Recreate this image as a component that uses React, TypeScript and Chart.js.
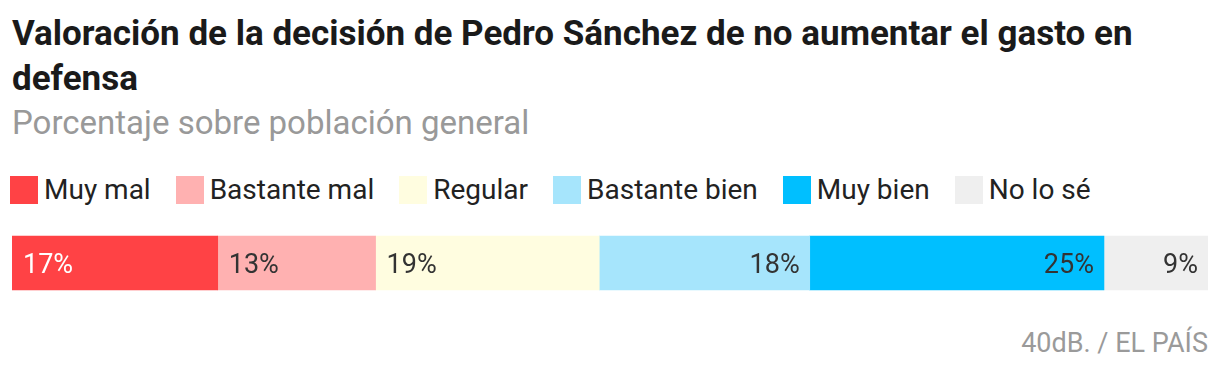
import React, { useEffect, useRef } from "react";
import { Chart, registerables } from "chart.js";

Chart.register(...registerables);

const title = "Valoración de la decisión de Pedro Sánchez de no aumentar el gasto en defensa";
const subtitle = "Porcentaje sobre población general";
const source = "40dB. / EL PAÍS";

const categories = ["Muy mal", "Bastante mal", "Regular", "Bastante bien", "Muy bien", "No lo sé"];
const values = [17.2, 13.2, 18.7, 17.6, 24.6, 8.7];
const valueLabels = ["17%", "13%", "19%", "18%", "25%", "9%"];

const colors = ["#ff4245", "#ffb1b1", "#fffde0", "#a6e5fc", "#00bfff", "#efefef"];
const labelColors = ["#ffffff", "#333333", "#333333", "#333333", "#333333", "#333333"];
const labelAligns: CanvasTextAlign[] = ["left", "left", "left", "right", "right", "right"];

const FONT = "Roboto, 'Noto Sans', sans-serif";

export default function App() {
  const canvasRef = useRef<HTMLCanvasElement | null>(null);

  useEffect(() => {
    if (!canvasRef.current) return;
    const labelPlugin = {
      id: "segmentLabels",
      afterDatasetsDraw(chart: any) {
        const ctx = chart.ctx;
        ctx.save();
        ctx.font = `400 27px ${FONT}`;
        ctx.textBaseline = "alphabetic";
        chart.data.datasets.forEach((ds: any, i: number) => {
          const meta = chart.getDatasetMeta(i);
          const el = meta.data[0];
          if (!el) return;
          const left = Math.min(el.x, el.base);
          const right = Math.max(el.x, el.base);
          ctx.fillStyle = labelColors[i];
          ctx.textAlign = labelAligns[i];
          const tx = labelAligns[i] === "left" ? left + 11 : right - 10;
          ctx.fillText(valueLabels[i], tx, el.y + 9.6);
        });
        ctx.restore();
      },
    };

    const chart = new Chart(canvasRef.current, {
      type: "bar",
      data: {
        labels: [""],
        datasets: categories.map((c, i) => ({
          label: c,
          data: [values[i]],
          backgroundColor: colors[i],
          borderWidth: 0,
          barThickness: 54,
        })),
      },
      options: {
        indexAxis: "y",
        animation: false,
        responsive: false,
        maintainAspectRatio: false,
        layout: { padding: { left: 4, right: 4, top: 0, bottom: 0 } },
        scales: {
          x: { stacked: true, min: 0, max: 100, display: false },
          y: { stacked: true, display: false },
        },
        plugins: {
          legend: { display: false },
          tooltip: { enabled: false },
          title: { display: false },
        },
      },
      plugins: [labelPlugin],
    });
    return () => chart.destroy();
  }, []);

  const titleWords = title.split(" ");
  const line1 = titleWords.slice(0, -1).join(" ");
  const line2 = titleWords[titleWords.length - 1];

  return (
    <div style={{ position: "relative", width: 1204, height: 358, fontFamily: FONT, overflow: "hidden" }}>
      <div
        style={{
          position: "absolute",
          top: 3,
          left: 4,
          fontSize: 35,
          lineHeight: "45px",
          fontWeight: 700,
          color: "#1a1a1a",
          whiteSpace: "nowrap",
        }}
      >
        {line1}
        <br />
        {line2}
      </div>
      <div
        style={{
          position: "absolute",
          top: 95,
          left: 4,
          fontSize: 33,
          lineHeight: "40px",
          color: "#999999",
          whiteSpace: "nowrap",
        }}
      >
        {subtitle}
      </div>
      <div
        style={{
          position: "absolute",
          top: 168,
          left: 2,
          display: "flex",
          alignItems: "center",
          height: 28,
          whiteSpace: "nowrap",
        }}
      >
        {categories.map((c, i) => (
          <div key={c} style={{ display: "flex", alignItems: "center", marginRight: 25 }}>
            <span style={{ display: "inline-block", width: 28, height: 28, background: colors[i] }} />
            <span style={{ marginLeft: 6, fontSize: 28, lineHeight: "28px", color: "#222222" }}>{c}</span>
          </div>
        ))}
      </div>
      <canvas
        ref={canvasRef}
        width={1204}
        height={80}
        style={{ position: "absolute", top: 215, left: 0, width: 1204, height: 80 }}
      />
      <div
        style={{
          position: "absolute",
          top: 320,
          right: 4,
          fontSize: 27,
          lineHeight: "30px",
          color: "#9a9a9a",
          whiteSpace: "nowrap",
        }}
      >
        {source}
      </div>
    </div>
  );
}
